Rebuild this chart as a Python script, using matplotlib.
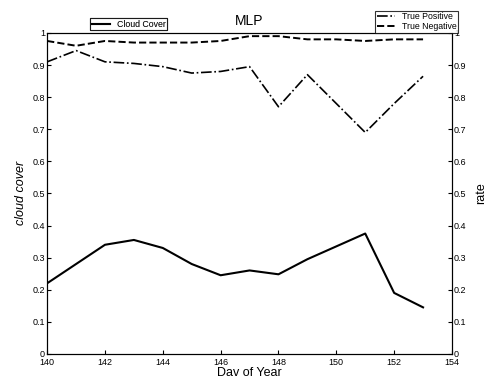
import numpy as np
import matplotlib
matplotlib.use("Agg")
import matplotlib.pyplot as plt

days = [140, 141, 142, 143, 144, 145, 146, 147, 148, 149, 150, 151, 152, 153]
cloud_cover = [0.22, 0.28, 0.34, 0.355, 0.33, 0.28, 0.245, 0.26, 0.248, 0.295, 0.335, 0.375, 0.19, 0.145]
true_positive = [0.91, 0.945, 0.91, 0.905, 0.895, 0.875, 0.88, 0.895, 0.77, 0.87, 0.78, 0.69, 0.78, 0.865]
true_negative = [0.975, 0.96, 0.975, 0.97, 0.97, 0.97, 0.975, 0.99, 0.99, 0.98, 0.98, 0.975, 0.98, 0.98]

xticks = np.arange(140, 155, 2)
yticks = np.arange(0, 1.01, 0.1)
ylabels = ["0", "0.1", "0.2", "0.3", "0.4", "0.5", "0.6", "0.7", "0.8", "0.9", "1"]

plt.rcParams['font.family'] = ['Liberation Sans', 'DejaVu Sans']

fig = plt.figure(figsize=(4.86, 3.83), dpi=100)
ax = fig.add_axes([0.097, 0.076, 0.833, 0.838])
ax2 = ax.twinx()

l1, = ax.plot(days, cloud_cover, 'k-', lw=1.5, label='Cloud Cover')
l2, = ax2.plot(days, true_positive, 'k-.', lw=1.2, label='True Positive')
l3, = ax2.plot(days, true_negative, 'k--', lw=1.4, label='True Negative')

for a in (ax, ax2):
    a.set_ylim(0, 1)
    a.set_yticks(yticks)
    a.set_yticklabels(ylabels, fontsize=6.5)
    a.tick_params(axis='y', direction='in', length=3, width=0.8, pad=1.5)
ax.set_xlim(140, 154)
ax.set_xticks(xticks)
ax.set_xticklabels([str(t) for t in xticks], fontsize=6.5)
ax.tick_params(axis='x', direction='in', length=3, width=0.8, pad=3)

ax.set_xlabel('Dav of Year', fontsize=9, labelpad=0)
ax.set_ylabel('cloud cover', fontsize=9, style='italic', labelpad=4)
ax2.set_ylabel('rate', fontsize=9, labelpad=6)
ax.set_title('MLP', fontsize=10, pad=6)

leg1 = ax.legend(handles=[l1], loc='lower left', bbox_to_anchor=(0.1, 1.0), fontsize=6.3,
                 frameon=True, fancybox=False, edgecolor='black', handlelength=2,
                 borderpad=0.2, borderaxespad=0.3)
leg1.get_frame().set_linewidth(0.8)
ax.add_artist(leg1)
leg2 = ax2.legend(handles=[l2, l3], loc='lower right', bbox_to_anchor=(1.015, 1.0), fontsize=6.3,
                  frameon=True, fancybox=False, edgecolor='black', handlelength=2,
                  borderpad=0.2, labelspacing=0.1, borderaxespad=0.0)
leg2.get_frame().set_linewidth(0.8)

fig.savefig('out.png', dpi=100)
